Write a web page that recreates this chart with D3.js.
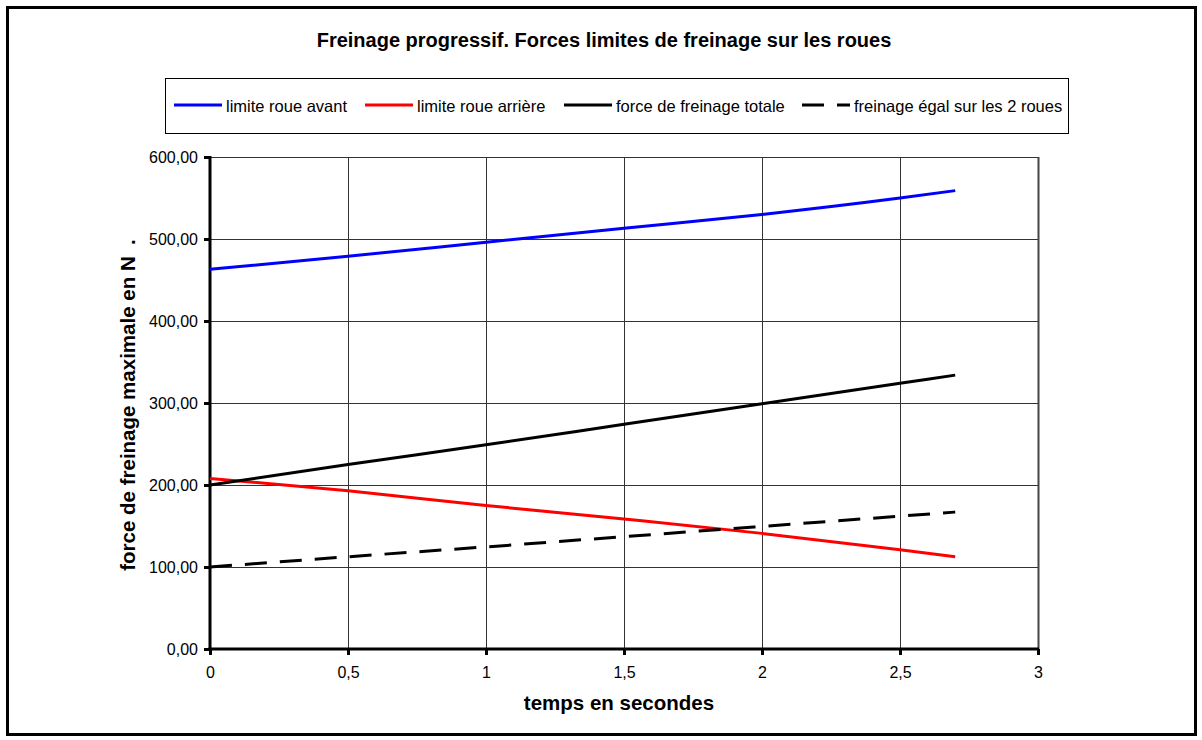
<!DOCTYPE html>
<html>
<head>
<meta charset="utf-8">
<script src="https://cdn.jsdelivr.net/npm/d3@7"></script>
<style>
  html, body { margin: 0; padding: 0; background: #fff; }
  svg { display: block; font-family: "Liberation Sans", Arial, sans-serif; }
</style>
</head>
<body>
<svg id="chart" width="1202" height="740"></svg>
<script>
// Time samples (s)
const temps = [0, 0.5, 1, 1.5, 2, 2.5, 2.7];
// Braking force limits (N)
const limiteAvant   = [463, 479, 496, 513, 530, 550, 559];
const limiteArriere = [208, 193, 175, 158.5, 141, 121, 112.5];
const forceTotale   = [200, 225, 249, 274, 299, 324, 334];
const freinageEgal  = [100, 112.5, 124.5, 137, 149.5, 162, 167];

const xTicks = [0, 0.5, 1, 1.5, 2, 2.5, 3];
const yTicks = [0, 100, 200, 300, 400, 500, 600];

const titre = "Freinage progressif. Forces limites de freinage sur les roues";
const titreX = "temps en secondes";
const titreY = "force de freinage maximale en N  .";

const series = [
  { name: "limite roue avant", values: limiteAvant, color: "#0000ff", dash: null },
  { name: "limite roue arrière", values: limiteArriere, color: "#ff0000", dash: null },
  { name: "force de freinage totale", values: forceTotale, color: "#000000", dash: null },
  { name: "freinage égal sur les 2 roues", values: freinageEgal, color: "#000000", dash: "22,13" }
];

const svg = d3.select("#chart");
const W = 1202, H = 740;
const plot = { left: 210, right: 1038, top: 157, bottom: 649 };

// Outer frame
svg.append("rect")
  .attr("x", 7.5).attr("y", 7.5)
  .attr("width", W - 14).attr("height", H - 13)
  .attr("fill", "#fff").attr("stroke", "#000").attr("stroke-width", 3);

const x = d3.scaleLinear().domain([0, 3]).range([plot.left, plot.right]);
const y = d3.scaleLinear().domain([0, 600]).range([plot.bottom, plot.top]);

// Title
svg.append("text")
  .attr("x", 604).attr("y", 47)
  .attr("text-anchor", "middle")
  .attr("font-size", 20).attr("font-weight", "bold")
  .text(titre);

// Gridlines
const grid = svg.append("g");
grid.selectAll("line.h").data(yTicks.slice(1)).enter().append("line")
  .attr("x1", plot.left).attr("x2", plot.right)
  .attr("y1", d => y(d) + 0.5).attr("y2", d => y(d) + 0.5)
  .attr("stroke", "#333").attr("stroke-width", 1);
grid.selectAll("line.v").data(xTicks.slice(1)).enter().append("line")
  .attr("y1", plot.top).attr("y2", plot.bottom)
  .attr("x1", d => x(d) + 0.5).attr("x2", d => x(d) + 0.5)
  .attr("stroke", "#333").attr("stroke-width", 1);

// Right edge of plot area slightly heavier
svg.append("line")
  .attr("x1", plot.right + 0.5).attr("x2", plot.right + 0.5)
  .attr("y1", plot.top).attr("y2", plot.bottom)
  .attr("stroke", "#444").attr("stroke-width", 2);

// Axes
const fmtY = d => d3.format(".2f")(d).replace(".", ",");
const fmtX = d => String(d).replace(".", ",");

const yAxis = svg.append("g")
  .attr("transform", `translate(${plot.left},0)`)
  .call(d3.axisLeft(y).tickValues(yTicks).tickFormat(fmtY).tickSize(6).tickPadding(6));
const xAxis = svg.append("g")
  .attr("transform", `translate(0,${plot.bottom})`)
  .call(d3.axisBottom(x).tickValues(xTicks).tickFormat(fmtX).tickSize(6).tickPadding(12));

[yAxis, xAxis].forEach(g => {
  g.select(".domain").attr("stroke", "#000").attr("stroke-width", 3);
  g.selectAll(".tick line").attr("stroke", "#000").attr("stroke-width", 3);
  g.selectAll(".tick text")
    .attr("fill", "#000")
    .attr("font-size", 16)
    .attr("font-family", "'Liberation Sans', Arial, sans-serif");
});
yAxis.select(".domain").attr("d", `M0,${plot.top - 1}V${plot.bottom + 1.5}`);
xAxis.select(".domain").attr("d", `M${plot.left - 1.5},0H${plot.right + 1}`);

// Axis titles
svg.append("text")
  .attr("x", 619).attr("y", 710)
  .attr("text-anchor", "middle")
  .attr("font-size", 20.5).attr("font-weight", "bold")
  .text(titreX);
svg.append("text")
  .attr("transform", `translate(135,${(plot.top + plot.bottom) / 2 + 2}) rotate(-90)`)
  .attr("text-anchor", "middle")
  .attr("font-size", 20.5).attr("font-weight", "bold")
  .attr("xml:space", "preserve")
  .style("white-space", "pre")
  .text(titreY);

// Series lines
const line = d3.line()
  .x((d, i) => x(temps[i]))
  .y(d => y(d))
  .curve(d3.curveMonotoneX);

svg.append("g").selectAll("path").data(series).enter().append("path")
  .attr("d", d => line(d.values))
  .attr("fill", "none")
  .attr("stroke", d => d.color)
  .attr("stroke-width", 3)
  .attr("stroke-dasharray", d => d.dash);

// Legend
const legend = svg.append("g");
legend.append("rect")
  .attr("x", 165.5).attr("y", 78.5)
  .attr("width", 903).attr("height", 55)
  .attr("fill", "#fff").attr("stroke", "#000").attr("stroke-width", 1);

const legendX = [174, 365, 564, 802];
const item = legend.selectAll("g.item").data(series).enter().append("g")
  .attr("transform", (d, i) => `translate(${legendX[i]},105)`);
item.append("line")
  .attr("x1", 0).attr("x2", 48)
  .attr("y1", 0).attr("y2", 0)
  .attr("stroke", d => d.color)
  .attr("stroke-width", 3)
  .attr("stroke-dasharray", d => d.dash);
item.append("text")
  .attr("x", 52).attr("y", 7)
  .attr("font-size", 16.5)
  .text(d => d.name);
</script>
</body>
</html>
